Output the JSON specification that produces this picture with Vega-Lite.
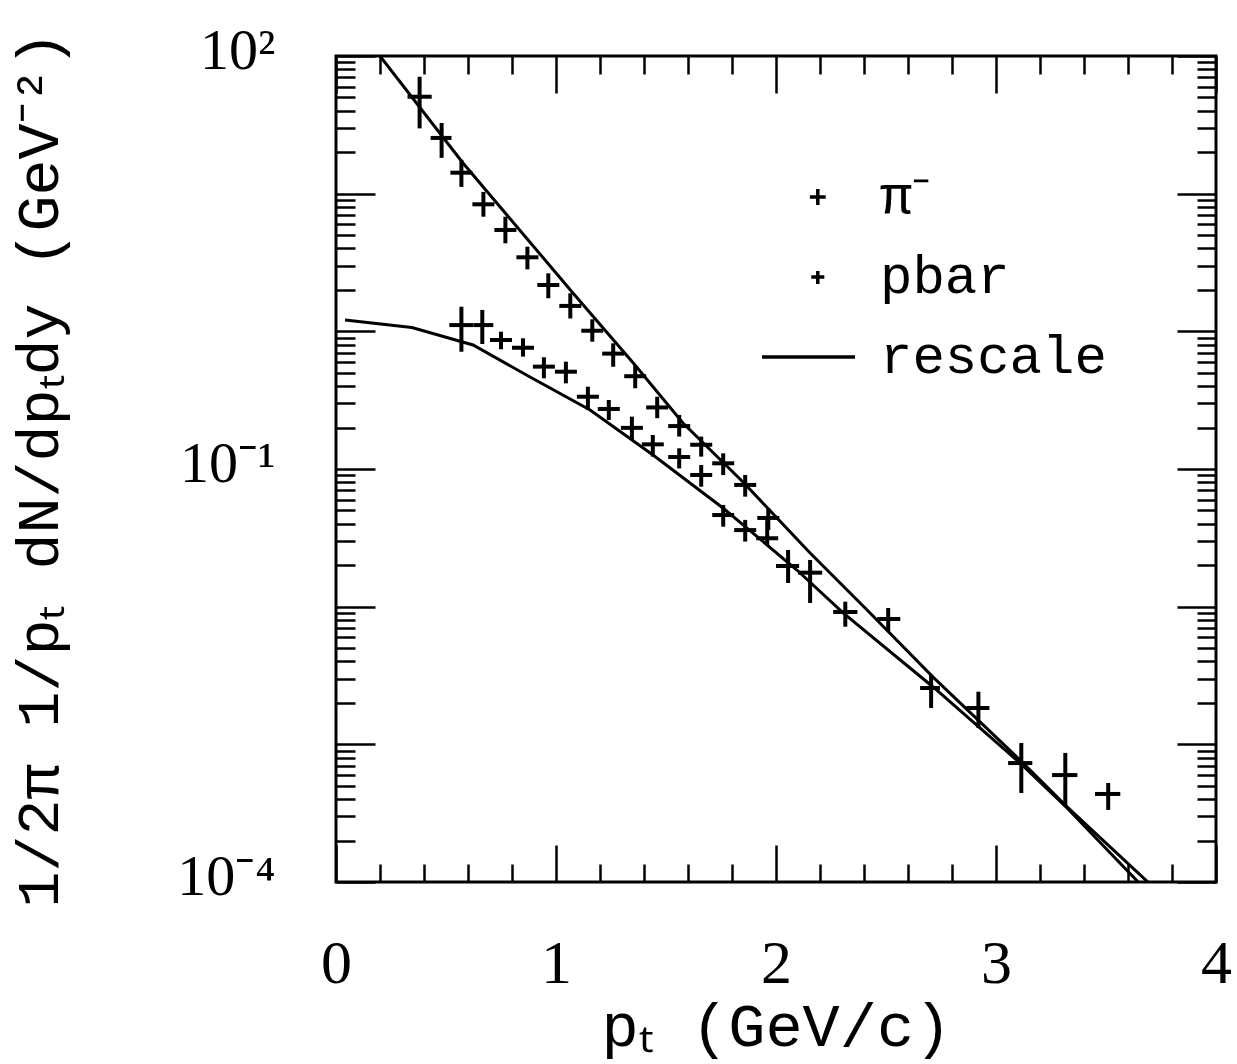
{
  "$schema": "https://vega.github.io/schema/vega-lite/v6.json",
  "width": 880,
  "height": 826,
  "autosize": {"type": "none"},
  "padding": {"left": 336, "top": 56, "right": 21, "bottom": 182},
  "background": "white",
  "config": {
    "view": {"stroke": "black", "strokeWidth": 3},
    "axis": {
      "domain": false,
      "grid": false,
      "tickColor": "black",
      "tickWidth": 2.5,
      "labelColor": "black",
      "titleColor": "black",
      "labelOverlap": false,
      "labelBound": false,
      "labelFlush": false
    }
  },
  "datasets": {
    "points": [
      {"series": "π⁻", "pt": 0.38, "y": 50.6, "ptlo": 0.325, "pthi": 0.435, "ylo": 29.8, "yhi": 70.7},
      {"series": "π⁻", "pt": 0.48, "y": 25.4, "ptlo": 0.43, "pthi": 0.525, "ylo": 18.2, "yhi": 32.6},
      {"series": "π⁻", "pt": 0.57, "y": 14.2, "ptlo": 0.52, "pthi": 0.62, "ylo": 11.2, "yhi": 17.6},
      {"series": "π⁻", "pt": 0.67, "y": 8.37, "ptlo": 0.62, "pthi": 0.72, "ylo": 6.8, "yhi": 10.3},
      {"series": "π⁻", "pt": 0.77, "y": 5.45, "ptlo": 0.72, "pthi": 0.82, "ylo": 4.36, "yhi": 6.8},
      {"series": "π⁻", "pt": 0.87, "y": 3.45, "ptlo": 0.82, "pthi": 0.92, "ylo": 2.82, "yhi": 4.12},
      {"series": "π⁻", "pt": 0.965, "y": 2.17, "ptlo": 0.915, "pthi": 1.015, "ylo": 1.74, "yhi": 2.64},
      {"series": "π⁻", "pt": 1.065, "y": 1.53, "ptlo": 1.015, "pthi": 1.115, "ylo": 1.24, "yhi": 1.89},
      {"series": "π⁻", "pt": 1.165, "y": 1.01, "ptlo": 1.115, "pthi": 1.215, "ylo": 0.841, "yhi": 1.223},
      {"series": "π⁻", "pt": 1.26, "y": 0.689, "ptlo": 1.21, "pthi": 1.31, "ylo": 0.553, "yhi": 0.819},
      {"series": "π⁻", "pt": 1.36, "y": 0.472, "ptlo": 1.31, "pthi": 1.41, "ylo": 0.386, "yhi": 0.569},
      {"series": "π⁻", "pt": 1.46, "y": 0.28, "ptlo": 1.41, "pthi": 1.51, "ylo": 0.234, "yhi": 0.335},
      {"series": "π⁻", "pt": 1.56, "y": 0.205, "ptlo": 1.51, "pthi": 1.61, "ylo": 0.172, "yhi": 0.247},
      {"series": "π⁻", "pt": 1.66, "y": 0.15, "ptlo": 1.61, "pthi": 1.71, "ylo": 0.123, "yhi": 0.172},
      {"series": "π⁻", "pt": 1.76, "y": 0.11, "ptlo": 1.71, "pthi": 1.81, "ylo": 0.0904, "yhi": 0.13},
      {"series": "π⁻", "pt": 1.86, "y": 0.0766, "ptlo": 1.81, "pthi": 1.91, "ylo": 0.063, "yhi": 0.0904},
      {"series": "π⁻", "pt": 1.965, "y": 0.0441, "ptlo": 1.915, "pthi": 2.015, "ylo": 0.0361, "yhi": 0.0519},
      {"series": "π⁻", "pt": 2.155, "y": 0.01766, "ptlo": 2.1, "pthi": 2.21, "ylo": 0.01064, "yhi": 0.02183},
      {"series": "π⁻", "pt": 2.315, "y": 0.00915, "ptlo": 2.26, "pthi": 2.37, "ylo": 0.00715, "yhi": 0.01087},
      {"series": "π⁻", "pt": 2.51, "y": 0.00814, "ptlo": 2.46, "pthi": 2.565, "ylo": 0.00655, "yhi": 0.00978},
      {"series": "π⁻", "pt": 2.705, "y": 0.002566, "ptlo": 2.655, "pthi": 2.745, "ylo": 0.001837, "yhi": 0.00319},
      {"series": "π⁻", "pt": 2.92, "y": 0.001836, "ptlo": 2.865, "pthi": 2.97, "ylo": 0.001315, "yhi": 0.002412},
      {"series": "π⁻", "pt": 3.115, "y": 0.000731, "ptlo": 3.055, "pthi": 3.165, "ylo": 0.000443, "yhi": 0.001023},
      {"series": "π⁻", "pt": 3.315, "y": 0.000598, "ptlo": 3.255, "pthi": 3.37, "ylo": 0.000363, "yhi": 0.000866},
      {"series": "π⁻", "pt": 3.51, "y": 0.000436, "ptlo": 3.45, "pthi": 3.565, "ylo": 0.000334, "yhi": 0.000524},
      {"series": "pbar", "pt": 0.57, "y": 1.11, "ptlo": 0.515, "pthi": 0.625, "ylo": 0.711, "yhi": 1.51},
      {"series": "pbar", "pt": 0.665, "y": 1.11, "ptlo": 0.625, "pthi": 0.715, "ylo": 0.809, "yhi": 1.43},
      {"series": "pbar", "pt": 0.75, "y": 0.865, "ptlo": 0.7, "pthi": 0.8, "ylo": 0.741, "yhi": 0.994},
      {"series": "pbar", "pt": 0.85, "y": 0.76, "ptlo": 0.8, "pthi": 0.9, "ylo": 0.655, "yhi": 0.89},
      {"series": "pbar", "pt": 0.945, "y": 0.554, "ptlo": 0.895, "pthi": 0.995, "ylo": 0.456, "yhi": 0.648},
      {"series": "pbar", "pt": 1.045, "y": 0.509, "ptlo": 0.995, "pthi": 1.095, "ylo": 0.419, "yhi": 0.602},
      {"series": "pbar", "pt": 1.145, "y": 0.335, "ptlo": 1.095, "pthi": 1.195, "ylo": 0.268, "yhi": 0.396},
      {"series": "pbar", "pt": 1.24, "y": 0.273, "ptlo": 1.19, "pthi": 1.29, "ylo": 0.227, "yhi": 0.317},
      {"series": "pbar", "pt": 1.345, "y": 0.199, "ptlo": 1.295, "pthi": 1.395, "ylo": 0.1625, "yhi": 0.24},
      {"series": "pbar", "pt": 1.44, "y": 0.151, "ptlo": 1.39, "pthi": 1.49, "ylo": 0.123, "yhi": 0.1766},
      {"series": "pbar", "pt": 1.56, "y": 0.1222, "ptlo": 1.51, "pthi": 1.61, "ylo": 0.101, "yhi": 0.1414},
      {"series": "pbar", "pt": 1.66, "y": 0.0905, "ptlo": 1.61, "pthi": 1.71, "ylo": 0.0744, "yhi": 0.107},
      {"series": "pbar", "pt": 1.76, "y": 0.0463, "ptlo": 1.71, "pthi": 1.81, "ylo": 0.0381, "yhi": 0.0548},
      {"series": "pbar", "pt": 1.86, "y": 0.036, "ptlo": 1.81, "pthi": 1.91, "ylo": 0.0297, "yhi": 0.0427},
      {"series": "pbar", "pt": 1.96, "y": 0.0314, "ptlo": 1.91, "pthi": 2.01, "ylo": 0.0281, "yhi": 0.0425},
      {"series": "pbar", "pt": 2.055, "y": 0.01975, "ptlo": 2.0, "pthi": 2.105, "ylo": 0.01486, "yhi": 0.0258}
    ],
    "curves": [
      {"series": "rescale", "curve": "π⁻", "pt": 0.2, "y": 100},
      {"series": "rescale", "curve": "π⁻", "pt": 0.577, "y": 16.7},
      {"series": "rescale", "curve": "π⁻", "pt": 0.823, "y": 5.73},
      {"series": "rescale", "curve": "π⁻", "pt": 1.077, "y": 1.9},
      {"series": "rescale", "curve": "π⁻", "pt": 1.359, "y": 0.569},
      {"series": "rescale", "curve": "π⁻", "pt": 1.577, "y": 0.216},
      {"series": "rescale", "curve": "π⁻", "pt": 1.85, "y": 0.0804},
      {"series": "rescale", "curve": "π⁻", "pt": 2.155, "y": 0.02455},
      {"series": "rescale", "curve": "π⁻", "pt": 2.414, "y": 0.00946},
      {"series": "rescale", "curve": "π⁻", "pt": 2.714, "y": 0.00308},
      {"series": "rescale", "curve": "π⁻", "pt": 3.109, "y": 0.000769},
      {"series": "rescale", "curve": "π⁻", "pt": 3.323, "y": 0.000351},
      {"series": "rescale", "curve": "π⁻", "pt": 3.7, "y": 0.0000967},
      {"series": "rescale", "curve": "pbar", "pt": 0.041, "y": 1.209},
      {"series": "rescale", "curve": "pbar", "pt": 0.345, "y": 1.067},
      {"series": "rescale", "curve": "pbar", "pt": 0.623, "y": 0.796},
      {"series": "rescale", "curve": "pbar", "pt": 0.882, "y": 0.466},
      {"series": "rescale", "curve": "pbar", "pt": 1.155, "y": 0.268},
      {"series": "rescale", "curve": "pbar", "pt": 1.441, "y": 0.1264},
      {"series": "rescale", "curve": "pbar", "pt": 1.759, "y": 0.0521},
      {"series": "rescale", "curve": "pbar", "pt": 2.095, "y": 0.01846},
      {"series": "rescale", "curve": "pbar", "pt": 2.305, "y": 0.009},
      {"series": "rescale", "curve": "pbar", "pt": 2.714, "y": 0.00261},
      {"series": "rescale", "curve": "pbar", "pt": 3.109, "y": 0.000732},
      {"series": "rescale", "curve": "pbar", "pt": 3.323, "y": 0.000345},
      {"series": "rescale", "curve": "pbar", "pt": 3.655, "y": 0.0000967}
    ]
  },
  "layer": [
    {
      "data": {"name": "curves"},
      "transform": [{"filter": "datum.curve === 'π⁻'"}],
      "mark": {"type": "line", "strokeWidth": 3, "clip": true},
      "encoding": {
        "x": {
          "field": "pt", "type": "quantitative",
          "scale": {"domain": [0, 4], "nice": false, "zero": false},
          "axis": {
            "orient": "bottom", "values": [0, 1, 2, 3, 4], "tickSize": -37,
            "labelFont": "Liberation Serif", "labelFontSize": 62, "labelPadding": 88, "labelDx": -6,
            "title": "pₜ (GeV/c)", "titleFont": "Liberation Mono", "titleFontSize": 62,
            "titleFontWeight": "normal", "titlePadding": 2
          }
        },
        "y": {
          "field": "y", "type": "quantitative",
          "scale": {"type": "log", "domain": [0.0001, 100], "nice": false},
          "axis": {
            "orient": "left", "values": [0.0001, 0.001, 0.01, 0.1, 1, 10, 100], "tickSize": -39,
            "labelExpr": "datum.value === 100 ? '10²' : datum.value === 0.1 ? '10⁻¹' : datum.value === 0.0001 ? '10⁻⁴' : ''",
            "labelFont": "Liberation Serif", "labelFontSize": 58, "labelPadding": 100, "labelOffset": -5,
            "title": "1/2π 1/pₜ dN/dpₜdy  (GeV⁻²)", "titleFont": "Liberation Mono", "titleFontSize": 60,
            "titleFontWeight": "normal", "titlePadding": 106
          }
        },
        "detail": {"field": "curve"},
        "color": {
          "field": "series", "type": "nominal",
          "scale": {"domain": ["π⁻", "pbar", "rescale"], "range": ["black", "black", "black"]},
          "legend": {
            "title": null,
            "orient": "none",
            "legendX": 424,
            "legendY": 101,
            "padding": 0,
            "symbolSize": 8649,
            "symbolStrokeWidth": 3.5,
            "symbolStrokeColor": "black",
            "clipHeight": 80,
            "rowPadding": 0,
            "labelFont": "Liberation Mono",
            "labelFontSize": 54,
            "labelColor": "black",
            "labelOffset": 23,
            "labelLimit": 400,
            "encode": {
              "symbols": {
                "update": {
                  "shape": {"signal": "datum.value === 'rescale' ? 'stroke' : datum.value === 'pbar' ? 'M0.06,0H0.34M0.2,-0.13V0.15' : 'M0.03,0H0.37M0.2,-0.17V0.17'"},
                  "stroke": {"value": "black"},
                  "fill": {"value": "transparent"},
                  "opacity": {"value": 1}
                }
              }
            }
          }
        }
      }
    },
    {
      "data": {"name": "curves"},
      "transform": [{"filter": "datum.curve === 'pbar'"}],
      "mark": {"type": "line", "strokeWidth": 3, "clip": true},
      "encoding": {
        "x": {
          "field": "pt", "type": "quantitative",
          "scale": {"domain": [0, 4], "nice": false, "zero": false},
          "axis": {"orient": "top", "values": [0, 1, 2, 3, 4], "tickSize": -37, "labels": false, "title": null}
        },
        "y": {
          "field": "y", "type": "quantitative",
          "scale": {"type": "log", "domain": [0.0001, 100], "nice": false},
          "axis": {"orient": "right", "values": [0.0001, 0.001, 0.01, 0.1, 1, 10, 100], "tickSize": -39, "labels": false, "title": null}
        },
        "detail": {"field": "curve"},
        "color": {"field": "series", "type": "nominal"}
      }
    },
    {
      "data": {"name": "points"},
      "mark": {"type": "rule", "strokeWidth": 4},
      "encoding": {
        "x": {
          "field": "ptlo", "type": "quantitative",
          "scale": {"domain": [0, 4], "nice": false, "zero": false},
          "axis": {
            "orient": "bottom",
            "values": [0.2, 0.4, 0.6, 0.8, 1.2, 1.4, 1.6, 1.8, 2.2, 2.4, 2.6, 2.8, 3.2, 3.4, 3.6, 3.8],
            "tickSize": -18, "labels": false, "title": null
          }
        },
        "x2": {"field": "pthi"},
        "y": {
          "field": "y", "type": "quantitative",
          "scale": {"type": "log", "domain": [0.0001, 100], "nice": false},
          "axis": {
            "orient": "left",
            "values": [0.0002, 0.0003, 0.0004, 0.0005, 0.0006, 0.0007, 0.0008, 0.0009,
                       0.002, 0.003, 0.004, 0.005, 0.006, 0.007, 0.008, 0.009,
                       0.02, 0.03, 0.04, 0.05, 0.06, 0.07, 0.08, 0.09,
                       0.2, 0.3, 0.4, 0.5, 0.6, 0.7, 0.8, 0.9,
                       2, 3, 4, 5, 6, 7, 8, 9,
                       20, 30, 40, 50, 60, 70, 80, 90],
            "tickSize": -19, "labels": false, "title": null
          }
        },
        "color": {"field": "series", "type": "nominal"}
      }
    },
    {
      "data": {"name": "points"},
      "mark": {"type": "rule", "strokeWidth": 4},
      "encoding": {
        "x": {
          "field": "pt", "type": "quantitative",
          "scale": {"domain": [0, 4], "nice": false, "zero": false},
          "axis": {
            "orient": "top",
            "values": [0.2, 0.4, 0.6, 0.8, 1.2, 1.4, 1.6, 1.8, 2.2, 2.4, 2.6, 2.8, 3.2, 3.4, 3.6, 3.8],
            "tickSize": -18, "labels": false, "title": null
          }
        },
        "y": {
          "field": "ylo", "type": "quantitative",
          "scale": {"type": "log", "domain": [0.0001, 100], "nice": false},
          "axis": {
            "orient": "right",
            "values": [0.0002, 0.0003, 0.0004, 0.0005, 0.0006, 0.0007, 0.0008, 0.0009,
                       0.002, 0.003, 0.004, 0.005, 0.006, 0.007, 0.008, 0.009,
                       0.02, 0.03, 0.04, 0.05, 0.06, 0.07, 0.08, 0.09,
                       0.2, 0.3, 0.4, 0.5, 0.6, 0.7, 0.8, 0.9,
                       2, 3, 4, 5, 6, 7, 8, 9,
                       20, 30, 40, 50, 60, 70, 80, 90],
            "tickSize": -19, "labels": false, "title": null
          }
        },
        "y2": {"field": "yhi"},
        "color": {"field": "series", "type": "nominal"}
      }
    }
  ],
  "resolve": {"axis": {"x": "independent", "y": "independent"}}
}
